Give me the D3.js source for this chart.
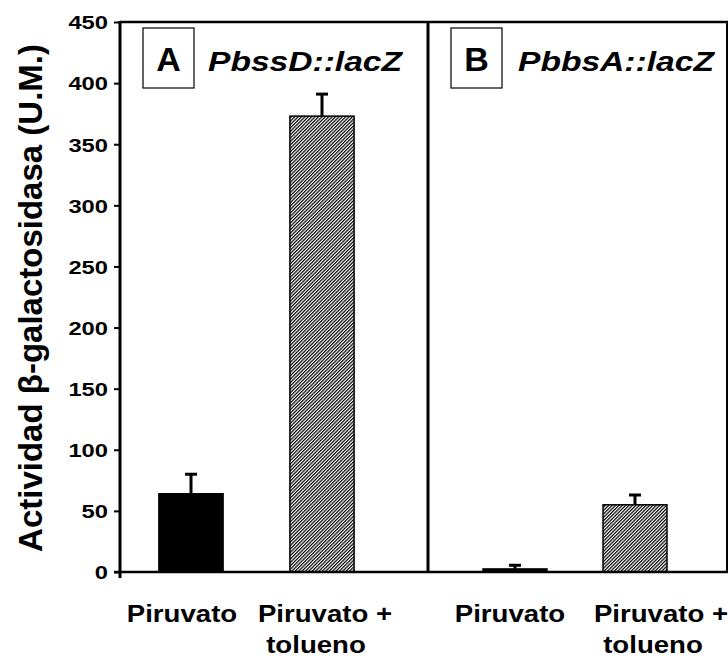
<!DOCTYPE html>
<html>
<head>
<meta charset="utf-8">
<script src="https://cdn.jsdelivr.net/npm/d3@7"></script>
<style>
  body { margin: 0; background: #fff; }
  text { font-family: "Liberation Sans", Arial, sans-serif; font-weight: bold; }
</style>
</head>
<body>
<script>
// chart data
const PANELS = ['A', 'B'];
const GENES = ['PbssD::lacZ', 'PbbsA::lacZ'];
const CONDITIONS = ['Piruvato', 'Piruvato + tolueno'];
const VALUES_A = [64, 373];
const VALUES_B = [2.5, 55];
const ERRORS_A = [16, 18];
const ERRORS_B = [3, 8];
const Y_TICKS = [0, 50, 100, 150, 200, 250, 300, 350, 400, 450];
const Y_LABEL = 'Actividad β-galactosidasa (U.M.)';

document.addEventListener('DOMContentLoaded', () => {
  drawChart();
});

function drawChart() {
  let width = 728, height = 664;
  let left = 120, right = 727, top = 22, bottom = 572, divider = 428;

  let svg = d3.select('body').append('svg')
              .attr('width', width)
              .attr('height', height);

  let defs = svg.append('defs');
  defs.append('pattern')
      .attr('id', 'hatch')
      .attr('patternUnits', 'userSpaceOnUse')
      .attr('width', 2.4).attr('height', 2.4)
      .attr('patternTransform', 'rotate(45)')
      .append('rect')
      .attr('width', 1.2).attr('height', 2.4)
      .attr('fill', '#000');

  let y = d3.scaleLinear().domain([0, 450]).range([bottom, top]);

  // one band scale per panel
  let panelRanges = [[125.5, 387.5], [455, 695]];
  let inner = [0.51, 0.467];
  let panels = PANELS.map((p, i) => ({
    name: p,
    gene: GENES[i],
    values: i === 0 ? VALUES_A : VALUES_B,
    errors: i === 0 ? ERRORS_A : ERRORS_B,
    x: d3.scaleBand().domain(CONDITIONS).range(panelRanges[i])
         .paddingInner(inner[i]).paddingOuter(inner[i] / 2)
  }));

  // y axis
  let tickScale = 1.25;
  let yAxis = svg.append('g')
                 .attr('transform', 'translate(' + left + ',0)')
                 .call(d3.axisLeft(y).tickValues(Y_TICKS).tickSize(6));
  yAxis.select('.domain').remove();
  yAxis.selectAll('.tick line').attr('stroke', '#000').attr('stroke-width', 2);
  yAxis.selectAll('.tick text')
       .attr('font-size', 19)
       .attr('fill', '#000')
       .attr('transform', 'scale(' + tickScale + ',1)')
       .attr('x', -12 / tickScale)
       .attr('dy', '0.36em');

  // bars
  panels.forEach((p, i) => {
    let g = svg.append('g');
    g.selectAll('rect.bar')
     .data(p.values)
     .enter().append('rect')
     .attr('class', 'bar')
     .attr('x', (d, j) => p.x(CONDITIONS[j]))
     .attr('width', p.x.bandwidth())
     .attr('y', d => y(d))
     .attr('height', d => y(0) - y(d))
     .attr('fill', (d, j) => j === 0 ? '#000' : 'url(#hatch)')
     .attr('stroke', '#000')
     .attr('stroke-width', 1.5);

    // upper error whiskers
    g.selectAll('line.err')
     .data(p.values)
     .enter().append('line')
     .attr('x1', (d, j) => p.x(CONDITIONS[j]) + p.x.bandwidth() / 2)
     .attr('x2', (d, j) => p.x(CONDITIONS[j]) + p.x.bandwidth() / 2)
     .attr('y1', d => y(d))
     .attr('y2', (d, j) => y(d + p.errors[j]))
     .attr('stroke', '#000').attr('stroke-width', 3);
    g.selectAll('line.cap')
     .data(p.values)
     .enter().append('line')
     .attr('x1', (d, j) => p.x(CONDITIONS[j]) + p.x.bandwidth() / 2 - 6)
     .attr('x2', (d, j) => p.x(CONDITIONS[j]) + p.x.bandwidth() / 2 + 6)
     .attr('y1', (d, j) => y(d + p.errors[j]))
     .attr('y2', (d, j) => y(d + p.errors[j]))
     .attr('stroke', '#000').attr('stroke-width', 3);

    // category labels
    let offsets = i === 0 ? [[-9, 0], [3, -6]] : [[-5, 0], [26, 18]];
    CONDITIONS.forEach((c, j) => {
      let cx = p.x(c) + p.x.bandwidth() / 2;
      let lines = c === 'Piruvato' ? ['Piruvato'] : ['Piruvato +', 'tolueno'];
      lines.forEach((ln, k) => {
        svg.append('text')
           .attr('transform', 'translate(' + (cx + offsets[j][k]) + ',' + (622 + k * 31) + ') scale(1.15,1)')
           .attr('text-anchor', 'middle')
           .attr('font-size', 24)
           .text(ln);
      });
    });
  });

  // frame lines
  svg.append('line').attr('x1', left).attr('x2', left).attr('y1', top - 1).attr('y2', bottom + 6)
     .attr('stroke', '#000').attr('stroke-width', 3);
  svg.append('line').attr('x1', left - 6).attr('x2', width).attr('y1', bottom).attr('y2', bottom)
     .attr('stroke', '#000').attr('stroke-width', 2.5);
  svg.append('line').attr('x1', left).attr('x2', width).attr('y1', top).attr('y2', top)
     .attr('stroke', '#000').attr('stroke-width', 2.5);
  svg.append('line').attr('x1', divider).attr('x2', divider).attr('y1', top).attr('y2', bottom)
     .attr('stroke', '#000').attr('stroke-width', 3);
  svg.append('line').attr('x1', right).attr('x2', right).attr('y1', top).attr('y2', bottom)
     .attr('stroke', '#000').attr('stroke-width', 2);

  // panel boxes and gene names
  let boxX = [143, 451];
  let geneX = [208, 518];
  panels.forEach((p, i) => {
    svg.append('rect')
       .attr('x', boxX[i]).attr('y', 28)
       .attr('width', 51).attr('height', 60)
       .attr('fill', '#fff').attr('stroke', '#000').attr('stroke-width', 1.2);
    svg.append('text')
       .attr('x', boxX[i] + 25.5).attr('y', 71)
       .attr('text-anchor', 'middle')
       .attr('font-size', 34)
       .text(p.name);
    svg.append('text')
       .attr('transform', 'translate(' + geneX[i] + ',71) scale(1.2,1)')
       .attr('font-size', 28)
       .attr('font-style', 'italic')
       .text(p.gene);
  });

  // y label
  svg.append('text')
     .attr('transform', 'translate(42,298) rotate(-90)')
     .attr('text-anchor', 'middle')
     .attr('font-size', 33)
     .text(Y_LABEL);
}
</script>
</body>
</html>
